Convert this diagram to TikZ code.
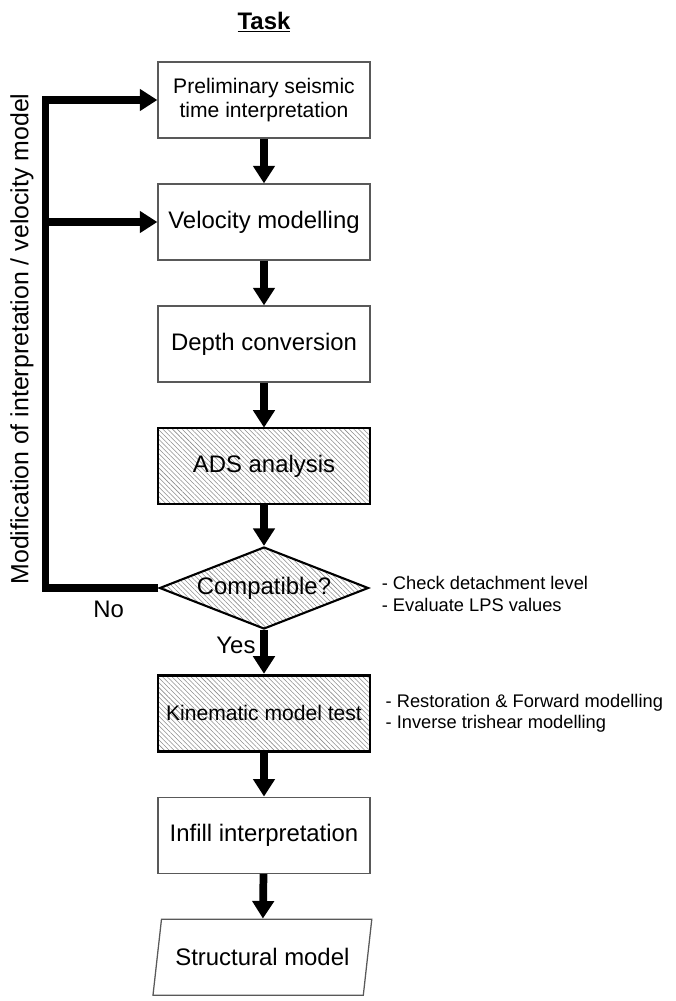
\documentclass[tikz,border=0pt]{standalone}
\usepackage{fontspec}
\setmainfont{Liberation Sans}
\usetikzlibrary{shapes,arrows.meta,patterns.meta,positioning}
\tikzstyle{process} = [rectangle, minimum width=5.3cm, minimum height=1.9cm, align=center, draw=black!65, line width=0.9pt, font=\fontsize{17}{20}\selectfont]
\tikzstyle{hatched} = [process, draw=black, line width=2pt, pattern={Lines[angle=-45,distance=2.4pt,line width=0.4pt]}, pattern color=black!45]
\tikzstyle{decision} = [diamond, aspect=2.5, minimum width=5.225cm, minimum height=2.05cm, inner sep=1pt, align=center, draw=black, line width=1.5pt, pattern={Lines[angle=-45,distance=2.4pt,line width=0.4pt]}, pattern color=black!45, font=\fontsize{17}{20}\selectfont]
\tikzstyle{io} = [trapezium, trapezium left angle=74, trapezium right angle=106, trapezium stretches=true, minimum width=5.475cm, minimum height=1.9cm, align=center, draw=black!65, line width=0.9pt, font=\fontsize{17}{20}\selectfont]
\tikzstyle{notes} = [align=left, inner sep=0pt, font=\fontsize{13}{15.5}\selectfont]
\tikzstyle{flow} = [line width=5.5pt, -{Triangle[length=12.5pt,width=15pt]}]
\begin{document}
\begin{tikzpicture}[node distance=3.05cm]
    \useasboundingbox (-6.6,2.5) rectangle (10.275,-22.525);

    \node(prelim)[process, font=\fontsize{15}{17}\selectfont]{Preliminary seismic\\time interpretation};
    \node(task)[above of=prelim, node distance=1.95cm, font=\fontsize{17}{20}\selectfont]{\underline{\textbf{Task}}};
    \node(velo)[process, below of=prelim]{Velocity modelling};
    \node(depth)[process, below of=velo]{Depth conversion};
    \node(ads)[hatched, below of=depth]{ADS analysis};
    \node(compat)[decision, below of=ads]{Compatible?};
    \node(kin)[hatched, below of=compat, yshift=-0.08cm, font=\fontsize{15}{17}\selectfont]{Kinematic model test};
    \node(infill)[process, below of=kin]{Infill interpretation};
    \node(model)[io, below of=infill, xshift=-0.04cm]{Structural model};

    \node(checks)[notes, right=0.3cm of compat, yshift=-0.14cm]{- Check detachment level\\- Evaluate LPS values};
    \node(tests)[notes, right=0.35cm of kin]{- Restoration \& Forward modelling\\- Inverse trishear modelling};

    \draw[flow] (prelim) -- (velo);
    \draw[flow] (velo) -- (depth);
    \draw[flow] (depth) -- (ads);
    \draw[flow] (ads) -- (compat);
    \draw[flow] (compat) -- node[pos=0.36, left, font=\fontsize{17}{20}\selectfont]{Yes} (kin);
    \draw[flow] (kin) -- (infill);
    \draw[flow] (infill) -- (model);

    % loop back when not compatible
    \draw[flow] (compat.west) -- node[below, pos=0.44, yshift=-0.1cm, font=\fontsize{17}{20}\selectfont]{No} ++(-2.825,0) coordinate(turn) |- (prelim.west);
    \draw[flow] (turn |- velo.west) -- (velo.west);
    \node(modlabel)[rotate=90, font=\fontsize{17.7}{20}\selectfont] at (-6.05,-5.975){Modification of interpretation / velocity model};

\end{tikzpicture}
\end{document}
